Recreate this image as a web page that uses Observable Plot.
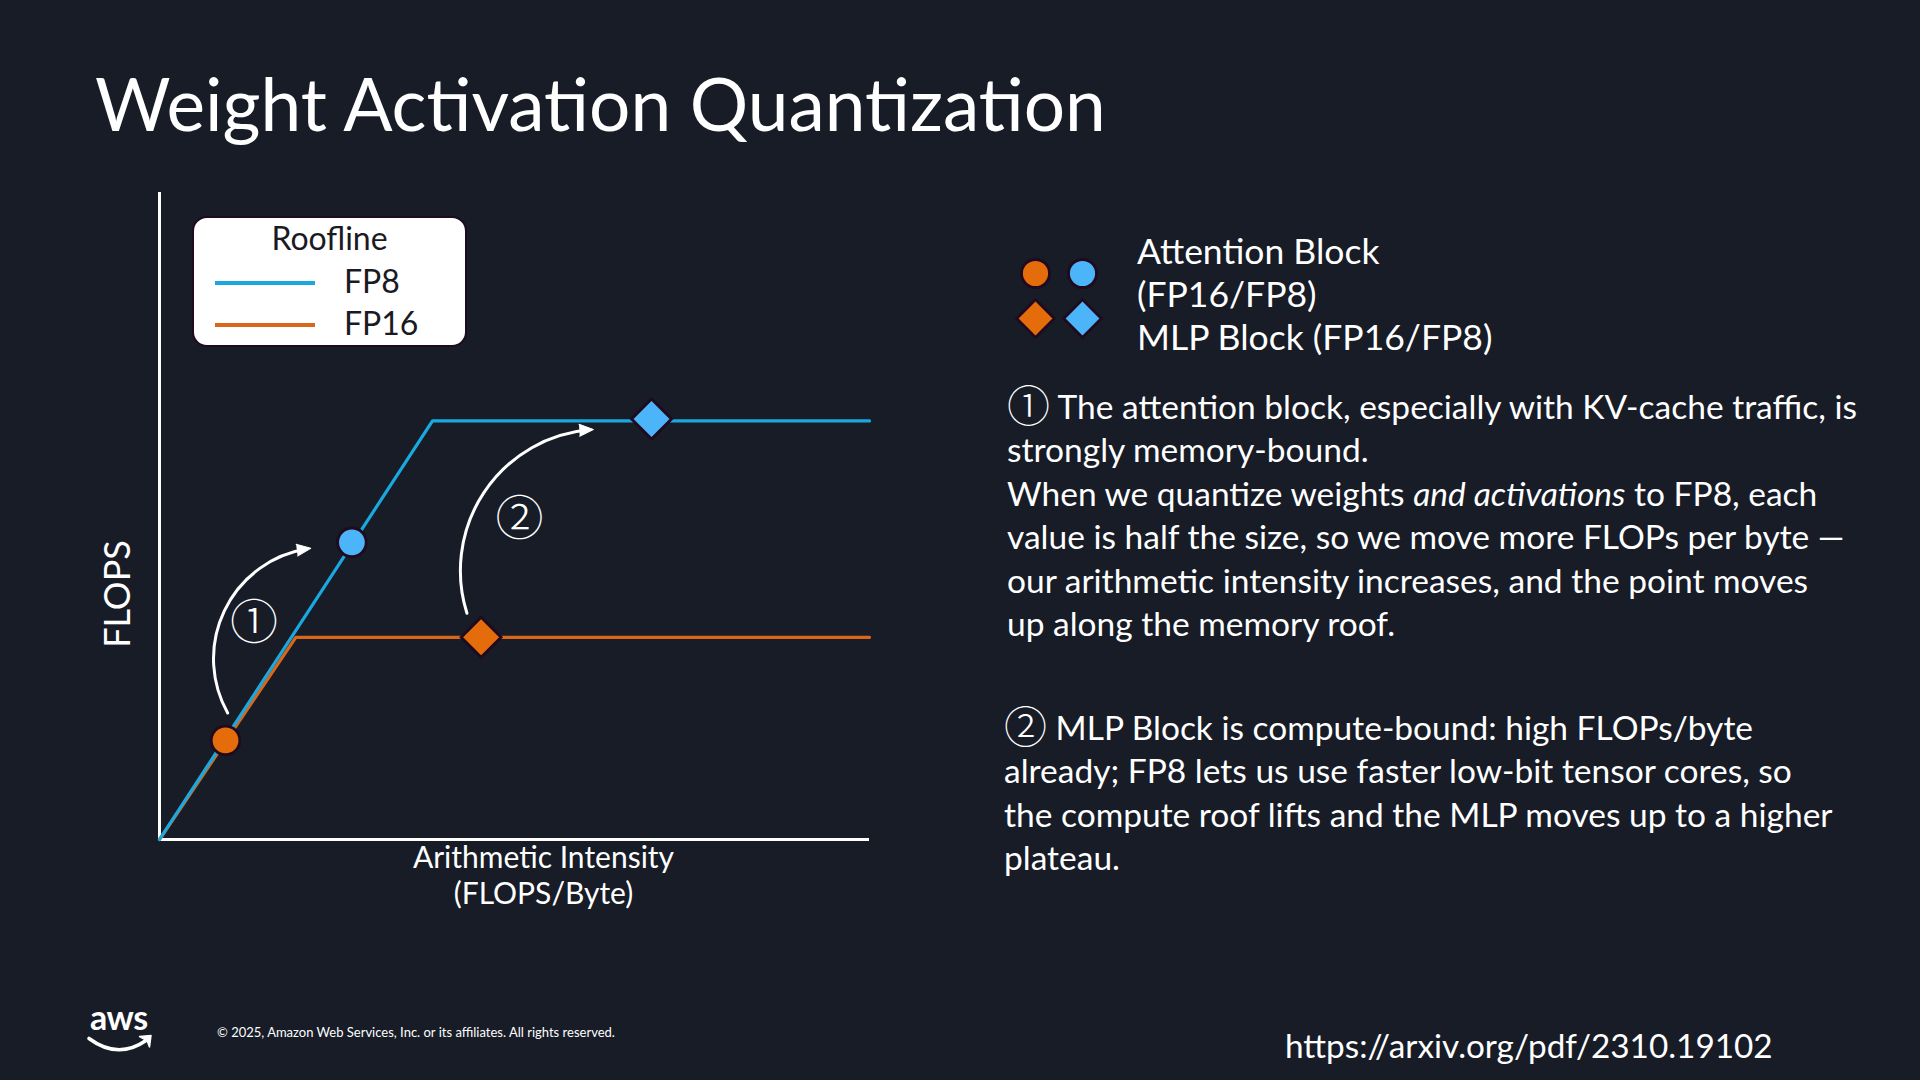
<!DOCTYPE html>
<html>
<head>
<meta charset="utf-8">
<script src="https://cdn.jsdelivr.net/npm/d3@7"></script>
<script src="https://cdn.jsdelivr.net/npm/@observablehq/plot@0.6"></script>
<style>
  html, body { margin: 0; padding: 0; background: #171c27; }
  #slide { position: relative; width: 1920px; height: 1080px; background: #171c27; overflow: hidden;
           font-family: Lato, "Open Sans", sans-serif; color: #fff; }
  .abs { position: absolute; white-space: nowrap; }
  #title { left: 95px; top: 67px; font-size: 73px; line-height: 1; }
  #chart { left: 0px; top: 150px; width: 900px; height: 800px; }
  #roofLegend { left: 192px; top: 216px; width: 275px; height: 131px; box-sizing: border-box;
                background: #fff; border: 2.5px solid #1f0a1f; border-radius: 15px; color: #1a1a24;
                font-size: 32px; line-height: 1; }
  #roofLegend .ttl { position: absolute; left: 0; right: 0; top: 4px; text-align: center; }
  #roofLegend .sw { position: absolute; left: 21px; width: 100px; height: 3.5px; }
  #roofLegend .lb { position: absolute; left: 150px; }
  #symLegend { left: 1010px; top: 245px; width: 100px; height: 100px; }
  #symText { left: 1137px; top: 229px; font-size: 35.5px; line-height: 43px; }
  .para { font-size: 33.5px; line-height: 43.4px; }
  #p1 { left: 1007px; top: 385px; }
  #p2 { left: 1004px; top: 706px; }
  .circ { font-family: "Noto Sans CJK SC", "DejaVu Sans", sans-serif; font-size: 43px; line-height: 0; font-weight: 300;
          position: relative; top: 3px; }
  #aws { left: 90px; top: 1000px; font-size: 34px; line-height: 1; font-weight: 700; letter-spacing: -0.5px; }
  #smile { left: 0; top: 0; }
  #copy { left: 217px; top: 1026px; font-size: 13px; line-height: 1; }
  #url { left: 1285px; top: 1029px; font-size: 33.3px; line-height: 1; }
</style>
</head>
<body>
<div id="slide">
  <div id="title" class="abs">Weight Activation Quantization</div>
  <div id="chart" class="abs"></div>
  <div id="roofLegend" class="abs"></div>
  <div id="symLegend" class="abs"></div>
  <div id="symText" class="abs">Attention Block<br>(FP16/FP8)<br>MLP Block (FP16/FP8)</div>
  <div id="p1" class="abs para"><span class="circ">①</span> The attention block, especially with KV-cache traffic, is<br>strongly memory-bound.<br>When we quantize weights <i>and activations</i> to FP8, each<br>value is half the size, so we move more FLOPs per byte —<br>our arithmetic intensity increases, and the point moves<br>up along the memory roof.</div>
  <div id="p2" class="abs para"><span class="circ">②</span> MLP Block is compute-bound: high FLOPs/byte<br>already; FP8 lets us use faster low-bit tensor cores, so<br>the compute roof lifts and the MLP moves up to a higher<br>plateau.</div>
  <svg id="smile" class="abs" width="1920" height="1080" style="pointer-events:none">
    <path d="M89 1038.5 Q 118 1060 146 1040.5" fill="none" stroke="#fff" stroke-width="3.6" stroke-linecap="round"/>
    <path d="M139.5 1036.5 L151 1035.5 L149.5 1047 L147 1040.5 Z" fill="#fff" stroke="#fff" stroke-width="1.5" stroke-linejoin="round"/>
  </svg>
  <div id="aws" class="abs">aws</div>
  <div id="copy" class="abs">© 2025, Amazon Web Services, Inc. or its affiliates. All rights reserved.</div>
  <div id="url" class="abs">https://arxiv.org/pdf/2310.19102</div>
</div>
<script>
// ---- data ----
const precisions = ["FP16", "FP8"];
const blocks = ["Attention", "MLP"];
const legendTitle = "Roofline";
const legendOrder = ["FP8", "FP16"];

const roofFP8X = [0, 38.45, 100];
const roofFP8Y = [0, 2.07, 2.07];
const roofFP16X = [0, 19.2, 100];
const roofFP16Y = [0, 1, 1];

const pointBlock = ["Attention", "Attention", "MLP", "MLP"];
const pointPrec  = ["FP16", "FP8", "FP16", "FP8"];
const pointX     = [9.3, 27.1, 45.3, 69.3];
const pointY     = [0.49, 1.47, 1.0, 2.08];

const stepLabels = ["①", "②"];
const stepX = [13.3, 50.7];
const stepY = [1.07, 1.58];

const arrowX1 = [9.6, 43.3];
const arrowY1 = [0.626, 1.119];
const arrowX2 = [21.3, 61.1];
const arrowY2 = [1.44, 2.028];

const xLabel = "Arithmetic Intensity\n(FLOPS/Byte)";
const yLabel = "FLOPS";

// ---- styles ----
const lineColor = {FP8: "#1ba8e0", FP16: "#d8671c"};
const markColor = ["#e46c0a", "#4cb4f8"];
const markStroke = "#1f0a1f";
const arrowBend = [56, 52];

// ---- tables ----
const roofs = [
  ...roofFP16X.map((x, i) => ({precision: "FP16", x, y: roofFP16Y[i]})),
  ...roofFP8X.map((x, i) => ({precision: "FP8", x, y: roofFP8Y[i]}))
];
const points = pointX.map((x, i) => ({x, y: pointY[i], block: pointBlock[i], precision: pointPrec[i]}));
const steps = stepLabels.map((t, i) => ({text: t, x: stepX[i], y: stepY[i]}));
const arrows = arrowX1.map((x1, i) => ({x1, y1: arrowY1[i], x2: arrowX2[i], y2: arrowY2[i]}));

const dotOpts = (r) => ({x: "x", y: "y", fill: "precision", symbol: "block", r, stroke: markStroke, strokeWidth: 2.8});

const makeChart = (extra) => Plot.plot({
  width: 900, height: 800,
  marginLeft: 159, marginRight: 31, marginTop: 42, marginBottom: 111,
  x: {domain: [0, 100], axis: null},
  y: {domain: [0, 3.2], axis: null},
  color: {domain: precisions, range: markColor},
  symbol: {domain: blocks, range: ["circle", "diamond2"]},
  style: {background: "transparent", color: "#fff", fontFamily: "Lato, sans-serif", overflow: "visible"},
  marks: [
    Plot.ruleX([0], {stroke: "#fff", strokeWidth: 3}),
    Plot.ruleY([0], {stroke: "#fff", strokeWidth: 3}),
    ...precisions.map(p => Plot.line(roofs.filter(d => d.precision === p), {x: "x", y: "y", stroke: lineColor[p], strokeWidth: 3.2})),
    ...arrows.map((a, i) => Plot.arrow([a], {x1: "x1", y1: "y1", x2: "x2", y2: "y2", bend: arrowBend[i], stroke: "#fff", strokeWidth: 3, headLength: 0, insetEnd: 5})),
    ...extra,
    Plot.text(steps, {x: "x", y: "y", text: "text", fill: "#fff", fontSize: 48, fontFamily: "Noto Sans CJK SC", fontWeight: 300}),
    Plot.dot(points.filter(d => d.block === "Attention"), dotOpts(14.3)),
    Plot.dot(points.filter(d => d.block === "MLP"), dotOpts(18)),
    Plot.text([yLabel], {frameAnchor: "left", rotate: -90, textAnchor: "middle", lineAnchor: "middle", dx: -41, dy: 78, fontSize: 36, fill: "#fff"}),
    Plot.text([xLabel], {frameAnchor: "bottom", textAnchor: "middle", lineAnchor: "top", dx: 29, dy: 3, fontSize: 30, lineHeight: 1.2, fill: "#fff"})
  ]
});

// arrowheads follow the arc's end tangent (chord angle in screen space + bend)
const probe = makeChart([]);
const sx = probe.scale("x"), sy = probe.scale("y");
const heads = arrows.map((a, i) => {
  const dx = sx.apply(a.x2) - sx.apply(a.x1), dy = sy.apply(a.y2) - sy.apply(a.y1);
  return {...a, rot: Math.atan2(dx, -dy) * 180 / Math.PI + arrowBend[i]};
});
const chart = makeChart([
  Plot.vector(heads, {x: "x2", y: "y2", rotate: "rot", anchor: "end", shape: "spike", length: 14, r: 6, fill: "#fff", stroke: "#fff", strokeWidth: 1})
]);
document.getElementById("chart").appendChild(chart);

// roofline legend
const rl = document.getElementById("roofLegend");
const ttl = document.createElement("div"); ttl.className = "ttl"; ttl.textContent = legendTitle; rl.appendChild(ttl);
legendOrder.forEach((p, i) => {
  const sw = document.createElement("div"); sw.className = "sw";
  sw.style.top = (63 + i * 42.2) + "px"; sw.style.background = lineColor[p]; rl.appendChild(sw);
  const lb = document.createElement("div"); lb.className = "lb";
  lb.style.top = (46.5 + i * 42.9) + "px"; lb.textContent = p; rl.appendChild(lb);
});

// symbol legend
const legendCells = [];
blocks.forEach(b => precisions.forEach(p => legendCells.push({block: b, precision: p})));
const symLegend = Plot.plot({
  width: 100, height: 100, margin: 0,
  x: {type: "point", domain: precisions, range: [25, 72.7], padding: 0, axis: null},
  y: {type: "point", domain: blocks, range: [27.3, 72.7], padding: 0, axis: null},
  color: {domain: precisions, range: markColor},
  symbol: {domain: blocks, range: ["circle", "diamond2"]},
  style: {background: "transparent", overflow: "visible"},
  marks: [
    Plot.dot(legendCells.filter(d => d.block === "Attention"), {x: "precision", y: "block", fill: "precision", symbol: "block", r: 14, stroke: markStroke, strokeWidth: 2.8}),
    Plot.dot(legendCells.filter(d => d.block === "MLP"), {x: "precision", y: "block", fill: "precision", symbol: "block", r: 17, stroke: markStroke, strokeWidth: 2.8})
  ]
});
document.getElementById("symLegend").appendChild(symLegend);
</script>
</body>
</html>
